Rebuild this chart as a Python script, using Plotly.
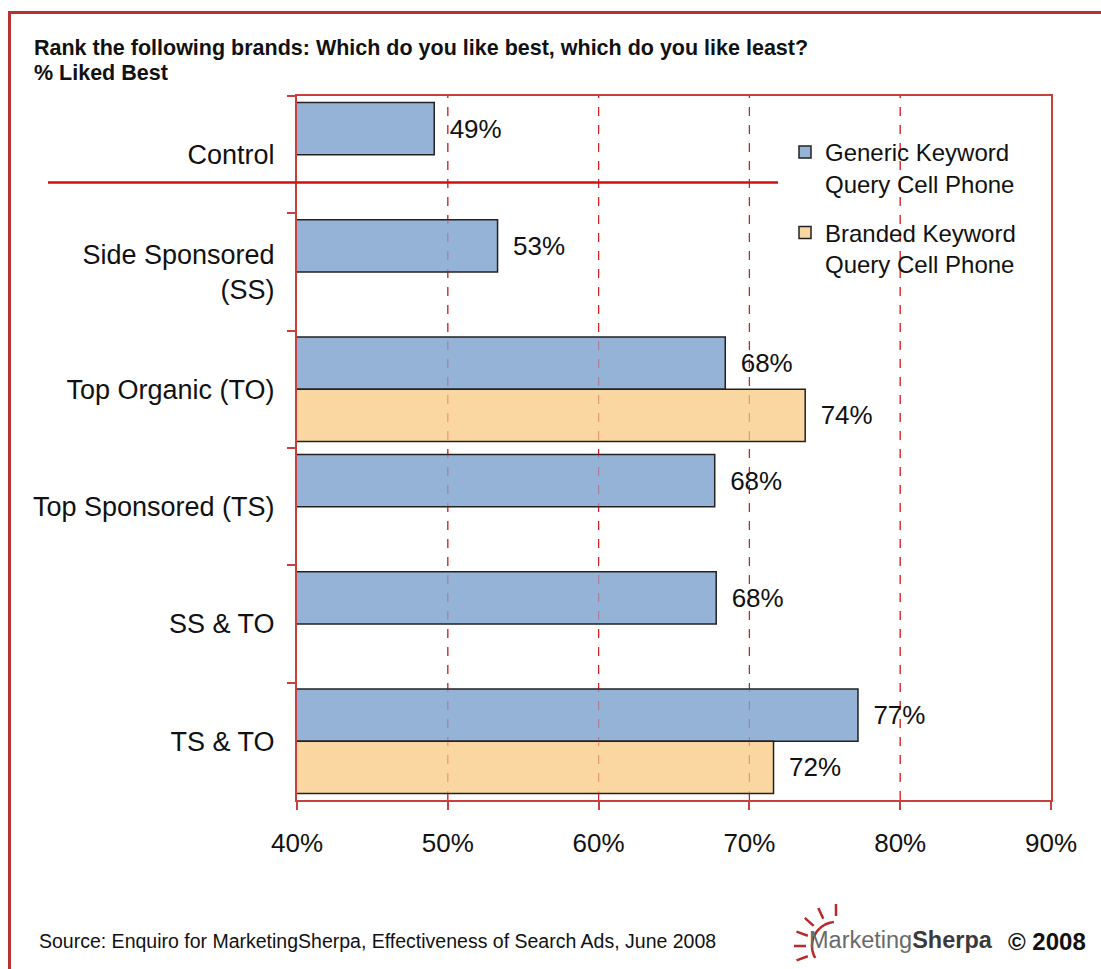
import plotly.graph_objects as go
import math

# ---- data ----
categories = ["Control", "Side Sponsored<br>(SS)", "Top Organic (TO)",
              "Top Sponsored (TS)", "SS & TO", "TS & TO"]
generic_values = [49.1, 53.3, 68.4, 67.7, 67.8, 77.2]
generic_labels = ["49%", "53%", "68%", "68%", "68%", "77%"]
branded_values = [None, None, 73.7, None, None, 71.6]
branded_labels = ["", "", "74%", "", "", "72%"]
x_ticks = [40, 50, 60, 70, 80, 90]
grid_vals = [50, 60, 70, 80]

W, H = 1101, 969
L, R, T, B = 297, 1051, 96, 800
FONT = "Arial, 'Liberation Sans', sans-serif"
RED_AX = "#c8403c"
RED_GRID = "#d41f1f"


def px(xp):
    return (xp - L) / (R - L)


def py(yp):
    return (B - yp) / (B - T)


fig = go.Figure()
fig.add_trace(go.Bar(
    y=categories, x=generic_values, orientation="h",
    name="Generic Keyword<br>Query Cell Phone", legendgroup="g",
    marker=dict(color="#95b3d7", line=dict(color="#222222", width=1.5)),
    text=generic_labels, texttemplate="\u00a0\u2009%{text}",
    textposition="outside", cliponaxis=False,
    textfont=dict(size=26, color="#111111", family=FONT),
))
fig.add_trace(go.Bar(
    y=categories, x=branded_values, orientation="h",
    name="Branded Keyword<br>Query Cell Phone", legendgroup="b",
    marker=dict(color="#fad6a0", line=dict(color="#222222", width=1.5)),
    text=branded_labels, texttemplate="\u00a0\u2009%{text}",
    textposition="outside", cliponaxis=False,
    textfont=dict(size=26, color="#111111", family=FONT),
))

shapes = []
# faint grid lines drawn over the bars
for g in grid_vals:
    shapes.append(dict(type="line", xref="x", yref="paper", x0=g, x1=g, y0=0, y1=1,
                       line=dict(color="rgba(212,31,31,0.35)", width=1.2, dash="dash"),
                       layer="above"))
# separator line under Control
shapes.append(dict(type="line", xref="paper", yref="paper",
                   x0=px(48), x1=px(778), y0=py(182.5), y1=py(182.5),
                   line=dict(color="#d01010", width=2.5), layer="above"))
# outer border
shapes.append(dict(type="rect", xref="paper", yref="paper",
                   x0=px(9.5), x1=px(1120), y0=py(12.5), y1=py(990),
                   line=dict(color="#b83232", width=3), layer="below"))

# logo sun (arc + rays)
cx, cy, r0 = 836, 946, 24
arc_pts = []
for a in range(95, 215, 5):
    t = math.radians(a)
    arc_pts.append((cx + r0 * math.cos(t), cy - r0 * math.sin(t)))
path = "M " + " L ".join(f"{px(x):.5f},{py(y):.5f}" for x, y in arc_pts)
shapes.append(dict(type="path", xref="paper", yref="paper", path=path,
                   line=dict(color="#b52a2a", width=2.5)))
for a in [90, 115, 138, 160, 180, 200]:
    t = math.radians(a)
    r1, r2 = 30, 42
    shapes.append(dict(type="line", xref="paper", yref="paper",
                       x0=px(cx + r1 * math.cos(t)), y0=py(cy - r1 * math.sin(t)),
                       x1=px(cx + r2 * math.cos(t)), y1=py(cy - r2 * math.sin(t)),
                       line=dict(color="#b52a2a", width=2.5)))

annotations = [
    dict(text="<b>Rank the following brands: Which do you like best, which do you like least?</b>",
         xref="paper", yref="paper", x=px(32), y=py(48), xanchor="left", yanchor="middle",
         showarrow=False, font=dict(size=21.5, color="#111111", family=FONT)),
    dict(text="<b>% Liked Best</b>",
         xref="paper", yref="paper", x=px(32), y=py(73), xanchor="left", yanchor="middle",
         showarrow=False, font=dict(size=21.5, color="#111111", family=FONT)),
    dict(text="Source: Enquiro for MarketingSherpa, Effectiveness of Search Ads, June 2008",
         xref="paper", yref="paper", x=px(37), y=py(941), xanchor="left", yanchor="middle",
         showarrow=False, font=dict(size=19.5, color="#111111", family=FONT)),
    dict(text="<span style='color:#6a6a6a'>Marketing</span><b><span style='color:#3a3a3a'>Sherpa</span></b>",
         xref="paper", yref="paper", x=px(807), y=py(940), xanchor="left", yanchor="middle",
         showarrow=False, font=dict(size=23.5, family=FONT)),
    dict(text="<b>© 2008</b>",
         xref="paper", yref="paper", x=px(1006), y=py(941), xanchor="left", yanchor="middle",
         showarrow=False, font=dict(size=24, color="#111111", family=FONT)),
]

fig.update_layout(
    width=W, height=H,
    margin=dict(l=L, r=W - R, t=T, b=H - B, pad=0),
    paper_bgcolor="white", plot_bgcolor="white",
    barmode="group", bargap=0.11, bargroupgap=0,
    font=dict(family=FONT, color="#111111"),
    showlegend=True,
    legend=dict(x=px(785), y=py(130), xanchor="left", yanchor="top",
                bgcolor="rgba(0,0,0,0)", borderwidth=0,
                font=dict(size=24, color="#111111", family=FONT),
                traceorder="grouped", tracegroupgap=15, valign="top",
                itemwidth=30),
    xaxis=dict(range=[40, 90], tickvals=x_ticks, ticktext=[f"{v}%" for v in x_ticks],
               showgrid=False, zeroline=False,
               showline=True, linecolor=RED_AX, linewidth=2, mirror=True,
               ticks="outside", ticklen=8, tickwidth=2, tickcolor=RED_AX,
               ticklabelstandoff=11,
               tickfont=dict(size=26, color="#111111", family=FONT)),
    yaxis=dict(type="category", autorange="reversed", tickson="boundaries",
               showgrid=False, zeroline=False,
               showline=True, linecolor=RED_AX, linewidth=2, mirror=True,
               ticks="outside", ticklen=8, tickwidth=2, tickcolor=RED_AX,
               ticklabelstandoff=15,
               tickfont=dict(size=27, color="#111111", family=FONT)),
    shapes=shapes,
    annotations=annotations,
)
# dashed grid lines below the bars
for g in grid_vals:
    fig.add_shape(type="line", xref="x", yref="paper", x0=g, x1=g, y0=0, y1=1,
                  line=dict(color=RED_GRID, width=1.2, dash="dash"), layer="below")

fig.write_html("out.html")
